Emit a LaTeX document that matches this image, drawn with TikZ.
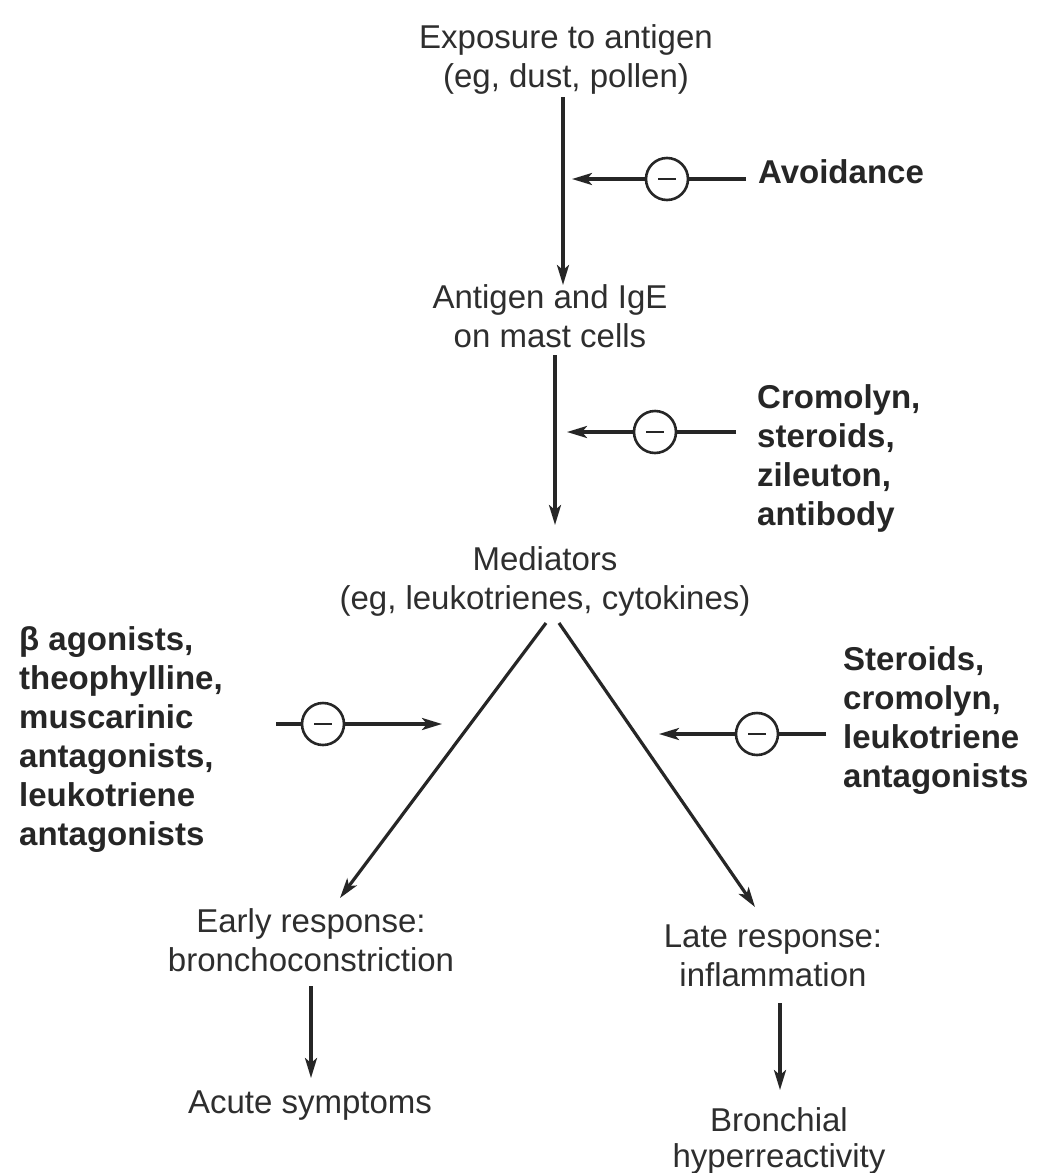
\documentclass[tikz,border=0pt]{standalone}
\usepackage{fontspec}
\setmainfont{Liberation Sans}
\usetikzlibrary{arrows.meta}
\begin{document}
\begin{tikzpicture}[x=1pt,y=-1pt,
  txt/.style={font=\fontsize{33}{39}\selectfont, text=black!82, align=center, inner sep=0pt},
  drug/.style={font=\fontsize{33}{39}\selectfont\bfseries, text=black!85, align=left, inner sep=0pt},
  arr/.style={-{Stealth[length=20pt,width=12pt,inset=5pt]}, line width=3.2pt, draw=black!85},
  plain/.style={line width=3.2pt, draw=black!85},
  inh/.style={circle, draw=black!85, line width=2.6pt, minimum size=42pt, inner sep=0pt,
    path picture={\draw[line width=2.2pt, black!85] ([xshift=-9pt]path picture bounding box.center) -- ([xshift=9pt]path picture bounding box.center);}}]
\useasboundingbox[fill=white] (0,0) rectangle (1037,1173);

% main chain
\node[txt] (exp) at (566,59) {Exposure to antigen\\(eg, dust, pollen)};
\node[txt] (ige) at (550,316) {Antigen and IgE\\on mast cells};
\node[txt] (med) at (545,581) {Mediators\\(eg, leukotrienes, cytokines)};
\node[txt] (early) at (311,940) {Early response:\\bronchoconstriction};
\node[txt] (acute) at (310,1106) {Acute symptoms};
\node[txt] (late) at (773,956) {Late response:\\inflammation};
\node[txt, font=\fontsize{33}{36}\selectfont] (bron) at (779,1141) {Bronchial\\hyperreactivity};

\coordinate (a1s) at (563,97);
\coordinate (a1e) at (563,285);
\coordinate (a2s) at (555,355);
\coordinate (a2e) at (555,525);
\coordinate (vls) at (546,623);
\coordinate (vle) at (340,898);
\coordinate (vrs) at (559,623);
\coordinate (vre) at (755,907);
\coordinate (a3s) at (311,986);
\coordinate (a3e) at (311,1078);
\coordinate (a4s) at (780,1003);
\coordinate (a4e) at (780,1090);

\draw[arr] (a1s) -- (a1e);
\draw[arr] (a2s) -- (a2e);
\draw[arr] (vls) -- (vle);
\draw[arr] (vrs) -- (vre);
\draw[arr] (a3s) -- (a3e);
\draw[arr] (a4s) -- (a4e);

% inhibitors
\node[drug, anchor=west] (avoid) at (758,172) {Avoidance};
\node[inh] (c1) at (667,179) {};
\coordinate (t1) at (572,179);
\coordinate (s1) at (746,179);
\draw[plain] (s1) -- (c1);
\draw[arr] (c1) -- (t1);

\node[drug, anchor=north west] (crom) at (757,384) {Cromolyn,\\steroids,\\zileuton,\\antibody};
\node[inh] (c2) at (655,432) {};
\coordinate (t2) at (567,432);
\coordinate (s2) at (736,432);
\draw[plain] (s2) -- (c2);
\draw[arr] (c2) -- (t2);

\node[drug, anchor=north west] (beta) at (19,626) {β agonists,\\theophylline,\\muscarinic\\antagonists,\\leukotriene\\antagonists};
\node[inh] (c3) at (323,724) {};
\coordinate (s3) at (276,724);
\coordinate (t3) at (442,724);
\draw[plain] (s3) -- (c3);
\draw[arr] (c3) -- (t3);

\node[drug, anchor=north west] (ster) at (843,646) {Steroids,\\cromolyn,\\leukotriene\\antagonists};
\node[inh] (c4) at (757,734) {};
\coordinate (s4) at (826,734);
\coordinate (t4) at (659,734);
\draw[plain] (s4) -- (c4);
\draw[arr] (c4) -- (t4);
\end{tikzpicture}
\end{document}
